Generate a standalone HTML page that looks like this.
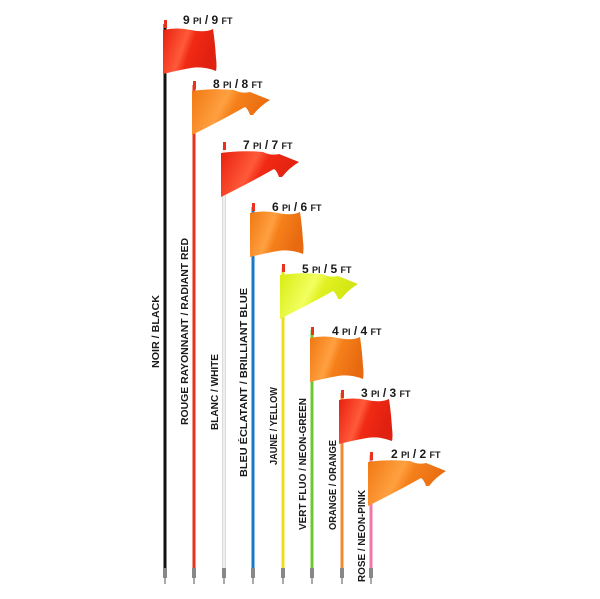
<!DOCTYPE html>
<html><head><meta charset="utf-8"><style>
html,body{margin:0;padding:0;background:#fff}
svg{display:block}
.t{font-family:"Liberation Sans",sans-serif;font-weight:bold;fill:#1a1a1a}
.s{font-size:9px}
</style></head><body>
<svg width="600" height="599" viewBox="0 0 600 599" xmlns="http://www.w3.org/2000/svg">
<defs>
<linearGradient id="gr" x1="0" y1="0" x2="1" y2="0.3">
<stop offset="0" stop-color="#e8200e"/><stop offset="0.45" stop-color="#ff5a3a"/><stop offset="0.6" stop-color="#f02a14"/><stop offset="1" stop-color="#e02010"/></linearGradient>
<linearGradient id="go" x1="0" y1="0" x2="1" y2="0.3">
<stop offset="0" stop-color="#f07812"/><stop offset="0.45" stop-color="#ffa040"/><stop offset="0.6" stop-color="#f5801a"/><stop offset="1" stop-color="#e86a10"/></linearGradient>
<linearGradient id="gy" x1="0" y1="0" x2="1" y2="0.3">
<stop offset="0" stop-color="#d8ec10"/><stop offset="0.45" stop-color="#f2ff60"/><stop offset="0.6" stop-color="#e0f020"/><stop offset="1" stop-color="#d0e410"/></linearGradient>
<path id="rect" d="M0,2 Q14,-1 28,2 T50,1 Q52,14 53,30 Q54,38 53,43 Q40,38 28,40 T0,46 Z"/>
<path id="sw" d="M0,3 Q20,0 42,2 Q50,6 58,4 L78,12 Q68,18 61,27 L58,27 Q56,21 53,19 Q30,32 0,47 Z"/>
</defs>
<g stroke-width="3">
<line x1="165" y1="24" x2="165" y2="568" stroke="#111"/>
<line x1="194" y1="85" x2="194" y2="568" stroke="#e8321e"/>
<line x1="224" y1="146" x2="224" y2="568" stroke="#eee"/>
<line x1="253" y1="207" x2="253" y2="568" stroke="#1a78c8"/>
<line x1="283" y1="268" x2="283" y2="568" stroke="#f0dc1e"/>
<line x1="312" y1="330" x2="312" y2="568" stroke="#6cc832"/>
<line x1="342" y1="393" x2="342" y2="568" stroke="#f08a32"/>
<line x1="371" y1="455" x2="371" y2="568" stroke="#f078a8"/>
</g>
<g stroke="#ccc" stroke-width="0.6" fill="none"><line x1="222.5" y1="190" x2="222.5" y2="568"/><line x1="225.5" y1="190" x2="225.5" y2="568"/></g>
<g fill="#888">
<rect x="163" y="568" width="4" height="10"/><rect x="192" y="568" width="4" height="10"/><rect x="222" y="568" width="4" height="10"/><rect x="251" y="568" width="4" height="10"/><rect x="281" y="568" width="4" height="10"/><rect x="310" y="568" width="4" height="10"/><rect x="340" y="568" width="4" height="10"/><rect x="369" y="568" width="4" height="10"/>
</g>
<g fill="#aaa"><rect x="164" y="578" width="2" height="6"/><rect x="193" y="578" width="2" height="6"/><rect x="223" y="578" width="2" height="6"/><rect x="252" y="578" width="2" height="6"/><rect x="282" y="578" width="2" height="6"/><rect x="311" y="578" width="2" height="6"/><rect x="341" y="578" width="2" height="6"/><rect x="370" y="578" width="2" height="6"/></g>
<g fill="#e8321e"><rect x="164" y="20" width="3" height="8"/><rect x="193" y="81" width="3" height="8"/><rect x="223" y="142" width="3" height="8"/><rect x="252" y="203" width="3" height="8"/><rect x="282" y="264" width="3" height="8"/><rect x="311" y="327" width="3" height="8"/><rect x="341" y="390" width="3" height="8"/><rect x="370" y="452" width="3" height="8"/></g>
<use href="#rect" x="163" y="28" fill="url(#gr)"/>
<use href="#sw" x="192" y="88" fill="url(#go)"/>
<use href="#sw" x="221" y="150" fill="url(#gr)"/>
<use href="#rect" x="250" y="211" fill="url(#go)"/>
<use href="#sw" x="280" y="272" fill="url(#gy)"/>
<use href="#rect" x="310" y="336" fill="url(#go)"/>
<use href="#rect" x="339" y="398" fill="url(#gr)"/>
<use href="#sw" x="368" y="459" fill="url(#go)"/>
<g class="t" font-size="12">
<text x="183" y="24">9 <tspan class="s">PI</tspan> / 9 <tspan class="s">FT</tspan></text>
<text x="213" y="88">8 <tspan class="s">PI</tspan> / 8 <tspan class="s">FT</tspan></text>
<text x="243" y="149">7 <tspan class="s">PI</tspan> / 7 <tspan class="s">FT</tspan></text>
<text x="272" y="211">6 <tspan class="s">PI</tspan> / 6 <tspan class="s">FT</tspan></text>
<text x="302" y="273">5 <tspan class="s">PI</tspan> / 5 <tspan class="s">FT</tspan></text>
<text x="332" y="335">4 <tspan class="s">PI</tspan> / 4 <tspan class="s">FT</tspan></text>
<text x="361" y="397">3 <tspan class="s">PI</tspan> / 3 <tspan class="s">FT</tspan></text>
<text x="391" y="458">2 <tspan class="s">PI</tspan> / 2 <tspan class="s">FT</tspan></text>
</g>
<g class="t" font-size="10.5">
<text transform="translate(159,368) rotate(-90)" textLength="73" lengthAdjust="spacingAndGlyphs">NOIR / BLACK</text>
<text transform="translate(188,425) rotate(-90)" textLength="187" lengthAdjust="spacingAndGlyphs">ROUGE RAYONNANT / RADIANT RED</text>
<text transform="translate(218,430) rotate(-90)" textLength="76" lengthAdjust="spacingAndGlyphs">BLANC / WHITE</text>
<text transform="translate(247,477) rotate(-90)" textLength="189" lengthAdjust="spacingAndGlyphs">BLEU ÉCLATANT / BRILLIANT BLUE</text>
<text transform="translate(277,465) rotate(-90)" textLength="78" lengthAdjust="spacingAndGlyphs">JAUNE / YELLOW</text>
<text transform="translate(306,530) rotate(-90)" textLength="132" lengthAdjust="spacingAndGlyphs">VERT FLUO / NEON-GREEN</text>
<text transform="translate(336,530) rotate(-90)" textLength="90" lengthAdjust="spacingAndGlyphs">ORANGE / ORANGE</text>
<text transform="translate(365,582) rotate(-90)" textLength="92" lengthAdjust="spacingAndGlyphs">ROSE / NEON-PINK</text>
</g>
</svg>
</body></html>
